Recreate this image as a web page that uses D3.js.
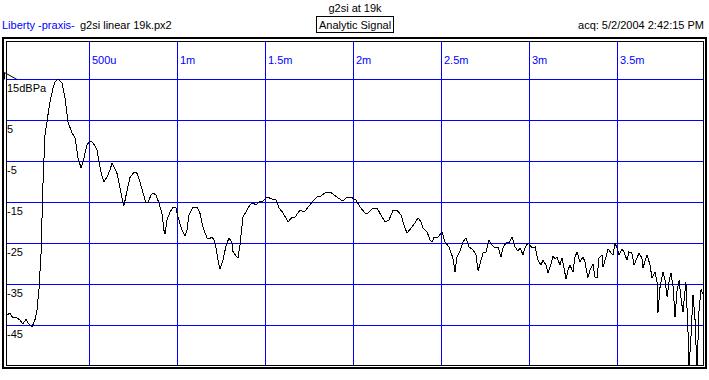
<!DOCTYPE html>
<html>
<head>
<meta charset="utf-8">
<script src="https://cdn.jsdelivr.net/npm/d3@7"></script>
<style>
  body { margin: 0; background: #fff; }
  text { font-family: "Liberation Sans", Arial, sans-serif; font-size: 11px; }
</style>
</head>
<body>
<svg id="chart" width="709" height="380"></svg>
<script>
// tick values and labels
const timeTicks = [0.5, 1, 1.5, 2, 2.5, 3, 3.5];            // ms
const timeTickLabels = ["500u", "1m", "1.5m", "2m", "2.5m", "3m", "3.5m"];
const levelTicks = [15, 5, -5, -15, -25, -35, -45];          // dB
const levelTickLabels = ["15dBPa", "5", "-5", "-15", "-25", "-35", "-45"];

// [time ms, level dB]
const response = [
  [0.027,-42.5],[0.032,-42.5],[0.049,-42.0],[0.066,-43.2],[0.089,-43.2],[0.106,-43.7],[0.123,-44.7],
  [0.140,-43.5],[0.152,-44.4],[0.174,-45.4],[0.191,-43.7],[0.203,-41.2],[0.214,-36.3],[0.226,-27.3],
  [0.231,-19.3],[0.236,-11.3],[0.242,-5.0],[0.248,1.4],[0.260,4.6],[0.265,6.3],[0.277,9.5],
  [0.294,12.9],[0.305,14.3],[0.322,15.1],[0.345,14.1],[0.362,10.4],[0.379,4.6],[0.402,1.9],
  [0.419,0.7],[0.436,-4.2],[0.453,-6.6],[0.464,-5.2],[0.487,-1.0],[0.504,0.0],[0.521,-0.5],
  [0.544,-2.2],[0.555,-5.2],[0.572,-8.6],[0.584,-10.0],[0.601,-8.8],[0.618,-7.1],[0.629,-5.4],
  [0.657,-7.9],[0.674,-11.3],[0.691,-15.1],[0.697,-15.8],[0.714,-12.2],[0.731,-9.0],[0.754,-7.6],
  [0.771,-7.9],[0.788,-10.0],[0.805,-12.7],[0.822,-15.2],[0.834,-15.0],[0.851,-13.2],[0.862,-12.7],
  [0.879,-13.2],[0.896,-15.2],[0.913,-17.7],[0.924,-21.8],[0.930,-22.8],[0.941,-19.3],[0.959,-17.4],
  [0.976,-16.2],[0.993,-16.4],[1.004,-18.6],[1.027,-21.8],[1.044,-23.2],[1.055,-21.8],[1.066,-18.1],
  [1.089,-16.2],[1.112,-16.2],[1.129,-17.7],[1.146,-21.1],[1.169,-23.7],[1.180,-23.9],[1.197,-23.5],
  [1.209,-24.2],[1.220,-26.1],[1.231,-29.1],[1.243,-31.3],[1.260,-29.1],[1.277,-25.5],[1.294,-23.7],
  [1.311,-24.9],[1.316,-27.0],[1.339,-28.4],[1.345,-28.5],[1.356,-25.5],[1.373,-18.6],[1.396,-16.9],
  [1.413,-15.6],[1.430,-15.2],[1.447,-15.6],[1.464,-14.9],[1.487,-14.7],[1.510,-13.7],[1.538,-14.2],
  [1.561,-14.4],[1.578,-16.4],[1.601,-17.6],[1.629,-19.8],[1.652,-18.6],[1.669,-18.6],[1.697,-16.9],
  [1.720,-17.4],[1.743,-16.2],[1.771,-14.7],[1.794,-13.7],[1.816,-13.5],[1.839,-12.7],[1.868,-12.5],
  [1.885,-13.0],[1.913,-13.9],[1.941,-14.7],[1.964,-13.7],[1.993,-13.9],[2.015,-14.4],[2.038,-16.1],
  [2.066,-17.6],[2.078,-17.9],[2.106,-16.6],[2.135,-16.4],[2.157,-18.1],[2.180,-19.8],[2.203,-19.3],
  [2.226,-16.9],[2.248,-16.9],[2.271,-18.1],[2.288,-20.5],[2.305,-22.5],[2.334,-21.0],[2.351,-20.0],
  [2.368,-18.8],[2.385,-19.8],[2.396,-21.3],[2.419,-22.2],[2.436,-24.2],[2.447,-24.7],[2.459,-23.5],
  [2.481,-23.5],[2.504,-22.2],[2.521,-24.7],[2.544,-25.9],[2.566,-28.6],[2.578,-32.0],[2.589,-28.3],
  [2.606,-26.9],[2.623,-24.7],[2.640,-23.7],[2.657,-25.9],[2.680,-26.6],[2.697,-27.8],[2.709,-31.7],
  [2.726,-29.1],[2.737,-27.4],[2.754,-27.1],[2.771,-24.2],[2.788,-25.4],[2.805,-26.1],[2.822,-25.9],
  [2.839,-28.3],[2.851,-26.1],[2.868,-24.9],[2.885,-24.9],[2.902,-23.5],[2.919,-25.9],[2.936,-26.9],
  [2.947,-26.1],[2.964,-27.8],[2.976,-26.1],[2.993,-24.9],[3.015,-26.1],[3.033,-25.9],[3.049,-29.1],
  [3.066,-30.3],[3.078,-29.1],[3.095,-30.3],[3.106,-32.2],[3.118,-30.8],[3.135,-28.1],[3.146,-28.8],
  [3.157,-28.3],[3.174,-30.3],[3.186,-28.6],[3.209,-33.7],[3.220,-31.5],[3.231,-30.3],[3.248,-32.0],
  [3.260,-28.3],[3.271,-27.1],[3.288,-29.5],[3.305,-28.3],[3.316,-29.5],[3.333,-33.4],[3.345,-31.5],
  [3.362,-30.0],[3.373,-33.2],[3.385,-33.4],[3.396,-28.6],[3.413,-27.8],[3.419,-30.8],[3.436,-28.3],
  [3.447,-26.4],[3.464,-27.3],[3.476,-27.8],[3.487,-24.9],[3.498,-26.1],[3.510,-27.8],[3.527,-26.4],
  [3.538,-27.1],[3.555,-29.1],[3.566,-27.1],[3.583,-27.4],[3.595,-30.3],[3.612,-28.6],[3.623,-27.4],
  [3.640,-28.6],[3.646,-31.0],[3.663,-28.6],[3.669,-27.8],[3.686,-30.3],[3.697,-33.4],[3.714,-32.0],
  [3.726,-34.6],[3.731,-41.9],[3.743,-35.6],[3.760,-32.0],[3.771,-34.0],[3.783,-38.1],[3.794,-34.4],
  [3.805,-32.2],[3.817,-35.6],[3.828,-43.0],[3.839,-36.8],[3.851,-34.0],[3.862,-38.4],[3.873,-41.8],
  [3.890,-34.4],[3.902,-46.9],[3.907,-56.0],[3.919,-47.4],[3.930,-37.6],[3.941,-43.0],[3.953,-56.0],
  [3.964,-41.6],[3.976,-36.2],[3.987,-37.4],[3.998,-42.6]
];

const titleText = "g2si at 19k";
const sourceText = "Liberty -praxis-";
const fileText = "g2si linear 19k.px2";
const modeText = "Analytic Signal";
const acqText = "acq: 5/2/2004 2:42:15 PM";

const svg = d3.select("#chart");
const blue = "#0000ff";

// plot box (inner frame)
const box = {left: 6, top: 41, right: 703, bottom: 365};

const x = d3.scaleLinear().domain([0, 4]).range([1.3, 705.3]);
const y = d3.scaleLinear().domain([-55, 25]).range([366.3, 38.3]);

// header texts
svg.append("text").attr("x", 355).attr("y", 12).attr("text-anchor", "middle").text(titleText);
let src = svg.append("text").attr("x", 2).attr("y", 29).attr("fill", blue).text(sourceText);
let sb = src.node().getBBox();
svg.append("text").attr("x", Math.round(sb.x + sb.width) + 5).attr("y", 29).text(fileText);
let mode = svg.append("text").attr("x", 355).attr("y", 29).attr("text-anchor", "middle").text(modeText);
let mb = mode.node().getBBox();
svg.append("rect")
  .attr("x", Math.round(mb.x) - 2.5).attr("y", 16.5)
  .attr("width", Math.round(mb.width) + 5).attr("height", 16)
  .attr("fill", "none").attr("stroke", "#000").attr("shape-rendering", "crispEdges");
svg.append("text").attr("x", 704).attr("y", 29).attr("text-anchor", "end").text(acqText);

// frames
svg.append("rect")
  .attr("x", 3).attr("y", 38).attr("width", 703).attr("height", 330)
  .attr("fill", "none").attr("stroke", "#000").attr("stroke-width", 2)
  .attr("shape-rendering", "crispEdges");
svg.append("rect")
  .attr("x", box.left + 0.5).attr("y", box.top + 0.5)
  .attr("width", box.right - box.left).attr("height", box.bottom - box.top)
  .attr("fill", "none").attr("stroke", "#000")
  .attr("shape-rendering", "crispEdges");

// grid
const grid = svg.append("g").attr("class", "grid");
grid.selectAll(".vline").data(timeTicks).join("line")
  .attr("class", "vline")
  .attr("x1", d => Math.round(x(d)) + 0.5).attr("x2", d => Math.round(x(d)) + 0.5)
  .attr("y1", box.top + 1).attr("y2", box.bottom)
  .attr("stroke", blue).attr("shape-rendering", "crispEdges");
grid.selectAll(".hline").data(levelTicks).join("line")
  .attr("class", "hline")
  .attr("x1", box.left + 1).attr("x2", box.right)
  .attr("y1", d => Math.round(y(d)) + 0.5).attr("y2", d => Math.round(y(d)) + 0.5)
  .attr("stroke", blue).attr("shape-rendering", "crispEdges");

// tick labels
svg.selectAll(".tlabel").data(timeTicks).join("text")
  .attr("class", "tlabel")
  .attr("x", d => Math.round(x(d)) + 3).attr("y", 64)
  .attr("fill", blue)
  .text((d, i) => timeTickLabels[i]);
svg.selectAll(".llabel").data(levelTicks).join("text")
  .attr("class", "llabel")
  .attr("x", 7).attr("y", d => Math.round(y(d)) + 13)
  .text((d, i) => levelTickLabels[i]);

// start marker
let my = Math.round(y(15)) + 0.5;
svg.append("path")
  .attr("d", `M4.5,${my} L4.5,${my - 7} L17,${my}`)
  .attr("fill", "none").attr("stroke", "#000");

// trace
svg.append("clipPath").attr("id", "plotclip")
  .append("rect").attr("x", box.left + 1).attr("y", box.top + 1)
  .attr("width", box.right - box.left - 1).attr("height", box.bottom - box.top - 1);

const line = d3.line().x(d => x(d[0])).y(d => y(d[1]));
svg.append("path")
  .datum(response)
  .attr("clip-path", "url(#plotclip)")
  .attr("d", line)
  .attr("fill", "none").attr("stroke", "#000").attr("stroke-width", 1)
  .attr("shape-rendering", "crispEdges");
</script>
</body>
</html>
